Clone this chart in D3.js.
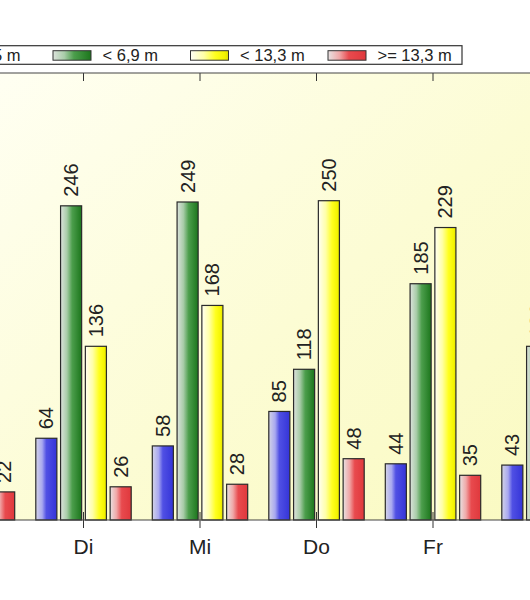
<!DOCTYPE html>
<html>
<head>
<meta charset="utf-8">
<script src="https://cdn.jsdelivr.net/npm/d3@7"></script>
<style>
  html, body { margin: 0; padding: 0; background: #ffffff; }
  svg { display: block; }
  text { font-family: "Liberation Sans", Arial, sans-serif; fill: #222; }
</style>
</head>
<body>
<svg id="chart" width="530" height="600"></svg>
<script>
// ---- data (null = bar lies outside the visible crop, value not readable) ----
const days = ["Mo", "Di", "Mi", "Do", "Fr", "Sa"];
const seriesNames = ["< 3,5 m", "< 6,9 m", "< 13,3 m", ">= 13,3 m"];
const blueValues   = [null, 64, 58, 85, 44, 43];
const greenValues  = [null, 246, 249, 118, 185, 136];
const yellowValues = [null, 136, 168, 250, 229, null];
const redValues    = [22, 26, 28, 48, 35, null];

const seriesValues = [blueValues, greenValues, yellowValues, redValues];

const svg = d3.select("#chart");
const W = 530, H = 600;
const plotTop = 73, plotBottom = 520;

// gradients
const defs = svg.append("defs");
const bg = defs.append("linearGradient").attr("id", "bg")
  .attr("x1", "0%").attr("y1", "0%").attr("x2", "100%").attr("y2", "100%");
bg.append("stop").attr("offset", "0%").attr("stop-color", "#fffff2");
bg.append("stop").attr("offset", "55%").attr("stop-color", "#fcfcd4");
bg.append("stop").attr("offset", "100%").attr("stop-color", "#fafac2");

const gradStops = [
  [["0", "#d4d4e6"], ["0.3", "#a8a8f0"], ["0.5", "#5050e4"], ["1", "#3434d8"]],
  [["0", "#dde3dd"], ["0.3", "#a8cca8"], ["0.55", "#4c9e4c"], ["1", "#1c761c"]],
  [["0", "#fffff4"], ["0.35", "#ffffa8"], ["0.65", "#ffff20"], ["0.9", "#f4f400"], ["1", "#dede00"]],
  [["0", "#e8e2e2"], ["0.3", "#f0a8a8"], ["0.55", "#e84a4e"], ["1", "#e0383c"]]
];
gradStops.forEach((stops, i) => {
  const g = defs.append("linearGradient").attr("id", "g" + i)
    .attr("x1", "0%").attr("y1", "0%").attr("x2", "100%").attr("y2", "0%");
  stops.forEach(s => g.append("stop").attr("offset", s[0]).attr("stop-color", s[1]));
});

// plot background
svg.append("rect").attr("x", 0).attr("y", plotTop).attr("width", W)
  .attr("height", plotBottom - plotTop).attr("fill", "url(#bg)");

// scales
const step = 116.5;
const x = d3.scaleBand().domain(days).range([-91.25, -91.25 + step * days.length]).padding(0);
const xs = d3.scaleBand().domain(seriesNames).range([-47.7, 47.7]).paddingInner(0.15).paddingOuter(0);
const y = d3.scaleLinear().domain([0, 350]).range([plotBottom, plotTop]);

// bars
const rows = [];
days.forEach((d, di) => seriesNames.forEach((s, si) => {
  const v = seriesValues[si][di];
  if (v !== null) rows.push({ day: d, s, si, v });
}));

const barG = svg.append("g");
barG.selectAll("rect").data(rows).join("rect")
  .attr("x", d => x(d.day) + x.bandwidth() / 2 + xs(d.s))
  .attr("y", d => y(d.v))
  .attr("width", xs.bandwidth())
  .attr("height", d => y(0) - y(d.v))
  .attr("fill", d => "url(#g" + d.si + ")")
  .attr("stroke", "#2a2a2a").attr("stroke-width", 1.2);

barG.selectAll("text").data(rows).join("text")
  .attr("transform", d => {
    const cx = x(d.day) + x.bandwidth() / 2 + xs(d.s) + xs.bandwidth() / 2;
    return `translate(${cx},${y(d.v) - 9}) rotate(-90)`;
  })
  .attr("text-anchor", "start")
  .attr("dominant-baseline", "central")
  .style("font-size", "20px")
  .text(d => d.v);

// axes
const xAxis = d3.axisBottom(x).tickSize(8).tickPadding(10).tickSizeOuter(0);
const gx = svg.append("g").attr("transform", `translate(0,${plotBottom - 8})`).call(xAxis);
gx.select(".domain").remove();
gx.selectAll(".tick").filter(d => d === "Mo" || d === "Sa").remove();
gx.selectAll(".tick line").attr("stroke", "#333").attr("y2", 16);
gx.selectAll(".tick text").attr("y", 27).attr("dy", "0.71em").style("font-size", "21px").style("fill", "#222");
svg.append("line").attr("x1", 0).attr("x2", W).attr("y1", plotBottom).attr("y2", plotBottom)
  .attr("stroke", "#444").attr("stroke-width", 1.2);

const xTop = d3.axisTop(x).tickSize(-8).tickFormat("").tickSizeOuter(0);
const gt = svg.append("g").attr("transform", `translate(0,${plotTop})`).call(xTop);
gt.select(".domain").remove();
gt.selectAll(".tick line").attr("stroke", "#333");
svg.append("line").attr("x1", 0).attr("x2", W).attr("y1", plotTop).attr("y2", plotTop)
  .attr("stroke", "#444").attr("stroke-width", 1.2);

// legend
const lg = svg.append("g");
lg.append("rect").attr("x", -200).attr("y", 45.7).attr("width", 662).attr("height", 18.6)
  .attr("fill", "#fff").attr("stroke", "#333").attr("stroke-width", 1.2);
const legStep = 137.5, legX0 = -84.5;
seriesNames.forEach((s, i) => {
  const lx = legX0 + i * legStep;
  if (i > 0) {
    lg.append("rect").attr("x", lx).attr("y", 50.7).attr("width", 38).attr("height", 9.5)
      .attr("fill", "url(#g" + i + ")").attr("stroke", "#333").attr("stroke-width", 1);
  }
  lg.append("text").attr("x", lx + 49.5).attr("y", 60.6).style("font-size", "16.5px").text(s);
});
</script>
</body>
</html>
